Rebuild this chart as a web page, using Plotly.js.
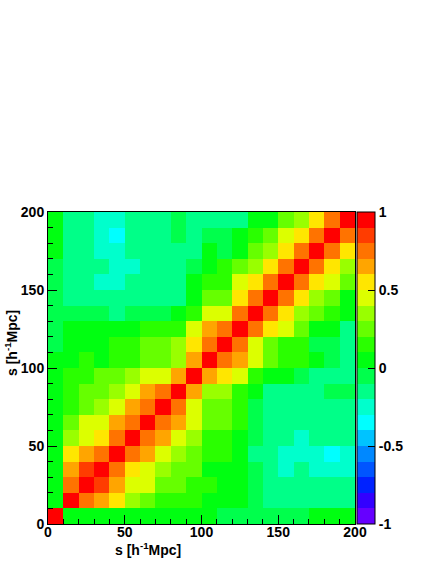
<!DOCTYPE html>
<html>
<head>
<meta charset="utf-8">
<script src="https://cdn.plot.ly/plotly-3.0.1.min.js"></script>
<style>
  html, body { margin: 0; padding: 0; background: #fff; }
  #chart { width: 436px; height: 564px; }
</style>
</head>
<body>
<div id="chart"></div>
<script>
// bin centres of the 20 s-bins (0-200, width 10)
const sCenters = [5, 15, 25, 35, 45, 55, 65, 75, 85, 95, 105, 115, 125, 135, 145, 155, 165, 175, 185, 195];
const axisTicks = [0, 50, 100, 150, 200];
const cbTicks = [-1, -0.5, 0, 0.5, 1];
const cbLabels = ['-1', '-0.5', '0', '0.5', '1'];

// correlation matrix, row = y bin, column = x bin
const corr = [
  [1, .05, .05, .05, .05, .05, .05, .05, .05, .05, .05, -.05, -.05, -.05, -.05, -.05, -.05, .05, .05, .05],
  [.05, 1, .75, .65, .55, .35, .25, .15, .15, .15, .08, .05, .05, -.05, -.15, -.15, -.15, -.15, -.15, -.15],
  [.05, .75, 1, .85, .65, .45, .45, .25, .25, .15, .12, .05, .05, -.05, -.15, -.15, -.15, -.15, -.15, -.15],
  [.05, .65, .85, 1, .75, .55, .45, .35, .25, .25, .08, .05, .05, -.05, -.15, -.25, -.15, -.25, -.25, -.25],
  [.05, .55, .65, .75, 1, .75, .65, .45, .35, .25, .15, .15, .05, -.15, -.15, -.25, -.25, -.25, -.35, -.25],
  [.05, .35, .45, .55, .75, 1, .75, .65, .45, .35, .15, .15, .05, -.05, -.15, -.15, -.25, -.15, -.15, -.15],
  [.05, .25, .45, .45, .65, .75, 1, .75, .65, .45, .25, .25, .15, -.05, -.15, -.15, -.15, -.15, -.15, -.15],
  [.05, .15, .25, .35, .45, .65, .75, 1, .75, .45, .25, .25, .15, -.05, -.15, -.15, -.15, -.15, -.15, -.15],
  [.05, .15, .25, .25, .35, .45, .65, .75, 1, .65, .35, .32, .15, .05, -.15, -.15, -.15, -.15, -.05, -.05],
  [.05, .15, .15, .25, .25, .35, .45, .45, .65, 1, .65, .55, .45, .15, .05, .05, -.05, -.15, -.15, -.15],
  [.05, .08, .12, .08, .15, .15, .25, .25, .35, .65, 1, .75, .65, .45, .25, .15, .15, .05, -.05, -.15],
  [-.05, .05, .05, .05, .15, .15, .25, .25, .32, .55, .75, 1, .75, .45, .25, .15, .15, -.05, -.05, -.15],
  [-.05, .05, .05, .05, .05, .05, .15, .15, .15, .45, .65, .75, 1, .75, .55, .45, .25, .05, .05, -.15],
  [-.05, -.05, -.05, -.05, -.15, -.05, -.05, -.05, .05, .15, .45, .45, .75, 1, .75, .55, .35, .25, .15, .05],
  [-.05, -.15, -.15, -.15, -.15, -.15, -.15, -.15, -.15, .05, .25, .25, .55, .75, 1, .75, .55, .35, .25, .05],
  [-.05, -.15, -.15, -.25, -.25, -.15, -.15, -.15, -.15, .05, .15, .15, .45, .55, .75, 1, .75, .55, .45, .25],
  [-.05, -.15, -.15, -.15, -.25, -.25, -.15, -.15, -.15, -.05, .05, .15, .25, .35, .55, .75, 1, .75, .55, .35],
  [.05, -.15, -.15, -.25, -.25, -.15, -.15, -.15, -.15, -.15, .05, -.05, .05, .25, .35, .55, .75, 1, .75, .55],
  [.05, -.15, -.15, -.25, -.35, -.15, -.15, -.15, -.05, -.15, -.05, -.05, .05, .15, .25, .45, .55, .75, 1, .75],
  [.05, -.15, -.15, -.25, -.25, -.15, -.15, -.15, -.05, -.15, -.15, -.15, -.15, .05, .05, .25, .35, .55, .75, 1]
];

// 20-level palette, from -1 up to 1
const palette = [
  '#6600ff', '#3300ff', '#0022ff', '#0055ff', '#0088ff',
  '#00c3ff', '#00ffff', '#00ffcc', '#00ff88', '#00ff4c',
  '#00ff11', '#2aff00', '#66ff00', '#99ff00', '#dcff00',
  '#ffe600', '#ffa500', '#ff7300', '#ff3c00', '#ff0000'
];

// step colorscale so each tenth gets one flat colour
const colorscale = [];
palette.forEach((c, i) => {
    colorscale.push([i / palette.length, c]);
    colorscale.push([(i + 1) / palette.length, c]);
});

const boldFont = {family: 'Liberation Sans, Arial, sans-serif', size: 14, color: '#000', weight: 'bold'};

const trace = {
    type: 'heatmap',
    x: sCenters,
    y: sCenters,
    z: corr,
    zmin: -1,
    zmax: 1,
    colorscale: colorscale,
    hoverinfo: 'skip',
    colorbar: {
        thickness: 18,
        thicknessmode: 'pixels',
        len: 1,
        lenmode: 'fraction',
        x: 1 + 2 / 307,
        xanchor: 'left',
        y: 0.5,
        yanchor: 'middle',
        xpad: 0,
        ypad: 0,
        outlinewidth: 1,
        outlinecolor: '#000',
        tickmode: 'array',
        tickvals: cbTicks,
        ticktext: cbLabels,
        ticks: 'inside',
        ticklen: 7,
        tickcolor: '#000',
        tickfont: boldFont
    }
};

const axisBase = {
    range: [0, 200],
    tickmode: 'array',
    tickvals: axisTicks,
    ticks: 'inside',
    ticklen: 9,
    tickwidth: 1,
    tickcolor: '#000',
    tickfont: boldFont,
    minor: {ticks: 'inside', dtick: 10, tick0: 0, ticklen: 5, tickcolor: '#000'},
    showgrid: false,
    zeroline: false,
    showline: true,
    linecolor: '#000',
    linewidth: 1,
    mirror: true
};

const layout = {
    width: 436,
    height: 564,
    margin: {l: 48, r: 81, t: 212, b: 40},
    paper_bgcolor: '#fff',
    plot_bgcolor: '#fff',
    xaxis: Object.assign({}, axisBase, {ticklabelstandoff: -5}),
    yaxis: Object.assign({}, axisBase),
    annotations: [
        {
            text: 's [h<sup>-1</sup>Mpc]',
            xref: 'paper', yref: 'paper',
            x: (148 - 48) / 307, y: (524 - 549) / 312,
            xanchor: 'center', yanchor: 'middle',
            showarrow: false,
            font: boldFont
        },
        {
            text: 's [h<sup>-1</sup>Mpc]',
            xref: 'paper', yref: 'paper',
            x: (11 - 48) / 307, y: (524 - 343) / 312,
            xanchor: 'center', yanchor: 'middle',
            textangle: -90,
            showarrow: false,
            font: boldFont
        }
    ]
};

Plotly.newPlot('chart', [trace], layout, {staticPlot: true, displayModeBar: false});
</script>
</body>
</html>
